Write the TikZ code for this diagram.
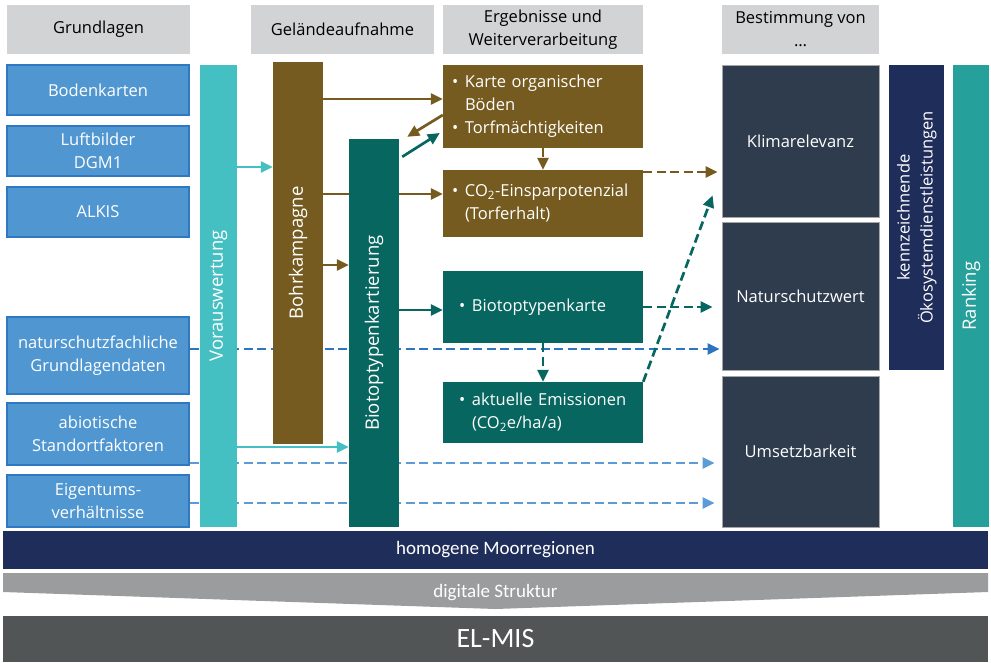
\documentclass[tikz,border=0pt]{standalone}
\usepackage{fontspec}
\usepackage{graphicx}
\setmainfont{Open Sans}
\newfontfamily\bandfont{Carlito}
\usetikzlibrary{arrows.meta, backgrounds, calc}
\definecolor{cHead}{HTML}{D1D3D4}
\definecolor{cBase}{HTML}{5097D1}
\definecolor{cBaseLn}{HTML}{2F78C2}
\definecolor{cPre}{HTML}{45C0C2}
\definecolor{cBohr}{HTML}{755B1F}
\definecolor{cBiot}{HTML}{07665F}
\definecolor{cEval}{HTML}{2E3C4E}
\definecolor{cOesd}{HTML}{1F2D5B}
\definecolor{cRank}{HTML}{26A09A}
\definecolor{cDigi}{HTML}{9A9C9D}
\definecolor{cMis}{HTML}{525556}
\definecolor{cNat}{HTML}{2E75C1}
\definecolor{cAbio}{HTML}{5B9BD8}
\newcommand\itm{\makebox[13pt][l]{\textbullet}}
\newcommand\itmpad{\hspace*{13pt}}

\begin{document}
\begin{tikzpicture}[x=1pt, y=-1pt,
  font=\fontsize{16.5}{23}\selectfont, >={Triangle[length=12pt,width=11pt]},
  box/.style 2 args={inner sep=0pt, align=center, text=white, minimum width=#1, minimum height=#2},
  head/.style 2 args={box={#1}{#2}, fill=cHead, text=black},
  base/.style 2 args={box={#1}{#2}, fill=cBase, draw=cBaseLn, line width=1.2pt},
  vbar/.style={fill=#1, font=\fontsize{18.5}{23}\selectfont},
  res/.style 2 args={box={#1}{#2}, align=left, inner xsep=9pt, text width=182pt},
  resT/.style 2 args={box={#1}{#2}, align=left, inner xsep=16pt, text width=168pt, fill=cBiot},
  eval/.style 2 args={box={#1}{#2}, fill=cEval, draw=black!35, line width=0.8pt},
  band/.style={font=\bandfont\fontsize{19}{23}\selectfont},
  flow/.style={->, line width=2.7pt},
  dflow/.style={->, line width=2.7pt, dash pattern=on 9pt off 4.5pt},
]
\useasboundingbox (0,0) rectangle (991,662);

% column headers
\node[head={183pt}{49pt}] (hGrund) at (98.5,29.5) {Grundlagen};
\node[head={183pt}{49pt}] (hGel) at (342.5,29.5) {Geländeaufnahme};
\node[head={200pt}{49pt}] (hErg) at (543,29.5) {Ergebnisse und\\Weiterverarbeitung};
\node[head={157pt}{49pt}] (hBest) at (800.5,29.5) {Bestimmung von\\…};

% column 1 data bases
\node[base={182pt}{50pt}] (boden) at (98,90) {Bodenkarten};
\node[base={182pt}{50pt}] (luft) at (98,151) {Luftbilder\\DGM1};
\node[base={182pt}{50pt}] (alkis) at (98,212) {ALKIS};
\node[base={182pt}{77pt}] (natur) at (98,355.5) {naturschutzfachliche\\Grundlagendaten};
\node[base={182pt}{62pt}] (abio) at (98,434) {abiotische\\Standortfaktoren};
\node[base={182pt}{52pt}] (eigen) at (98,501) {Eigentums-\\verhältnisse};

% column 2 field work bars
\node[box={37pt}{462pt}, vbar=cPre] (vor) at (218.5,296) {\rotatebox{90}{Vorauswertung}};
\node[box={50pt}{382pt}, vbar=cBohr] (bohr) at (298,253) {\rotatebox{90}{Bohrkampagne}};
\node[box={50pt}{388pt}, vbar=cBiot] (biot) at (374,333) {\rotatebox{90}{Biotoptypenkartierung}};

% column 3 results
\node[res={200pt}{83pt}, fill=cBohr] (karte) at (543,106.5)
  {\itm Karte organischer\\\itmpad Böden\\\itm Torfmächtigkeiten};
\node[res={200pt}{67pt}, fill=cBohr] (co2) at (543,203.5)
  {\itm CO\textsubscript{2}-Einsparpotenzial\\\itmpad (Torferhalt)};
\node[resT={200pt}{72pt}] (btk) at (543,307) {\itm Biotoptypenkarte};
\node[resT={200pt}{61pt}] (emis) at (543,412.5)
  {\itm aktuelle Emissionen\\\itmpad (CO\textsubscript{2}e/ha/a)};

% column 4 evaluation
\node[eval={157pt}{152pt}] (klima) at (800.5,141) {Klimarelevanz};
\node[eval={157pt}{148pt}] (nsw) at (800.5,296) {Naturschutzwert};
\node[eval={157pt}{151pt}] (umsetz) at (800.5,451.5) {Umsetzbarkeit};
\node[box={55pt}{305pt}, fill=cOesd] (oesd) at (916.5,217.5)
  {\rotatebox{90}{\begin{tabular}{@{}c@{}}kennzeichnende\\Ökosystemdienstleistungen\end{tabular}}};
\node[box={36pt}{462pt}, vbar=cRank] (rank) at (971,296) {\rotatebox{90}{Ranking}};

% bottom bands
\node[box={985pt}{38pt}, fill=cOesd, band] (moor) at (495.5,550) {homogene Moorregionen};
\fill[cDigi] (3,573) -- (988,573) -- (988,592) -- (495.5,609) -- (3,592) -- cycle;
\node[box={10pt}{10pt}, band] (digi) at (495.5,593) {digitale Struktur};
\node[box={985pt}{46pt}, fill=cMis, font=\bandfont\fontsize{28}{32}\selectfont] (mis) at (495.5,639) {EL-MIS};

% solid links
\draw[flow, cPre] (vor.east |- 0,167) -- (bohr.west |- 0,167);
\draw[flow, cPre] (vor.east |- 0,447) -- (biot.west |- 0,447);
\draw[flow, cBohr] (bohr.east |- 0,99) -- (karte.west |- 0,99);
\draw[flow, cBohr] (bohr.east |- 0,265) -- (biot.west |- 0,265);
\draw[flow, cBohr] ([yshift=-8.5pt]karte.west) -- ([xshift=8pt,yshift=2pt]biot.north east);
\draw[flow, cBiot] ([xshift=3pt,yshift=-18pt]biot.north east) -- ([xshift=-3pt,yshift=-26.5pt]karte.west);
\draw[flow, cBiot] (biot.east |- 0,310) -- (btk.west |- 0,310);

% dashed links
\draw[dflow, cBohr] (karte.south) -- (co2.north);
\draw[dflow, cBohr, shorten >=4pt] (co2.east |- 0,172) -- (klima.west |- 0,172);
\draw[dflow, cBiot] (btk.south) -- (emis.north);
\draw[dflow, cBiot, shorten >=9pt] (btk.east) -- (nsw.west |- btk.east);
\draw[dflow, cBiot] (emis.north east) -- ([xshift=-9pt,yshift=22pt]klima.south west);

% links running behind the bars
\begin{scope}[on background layer]
  \draw[flow, cBohr] (bohr.east |- 0,194) -- (co2.west |- 0,194);
  \draw[dflow, cNat, shorten >=2pt] (natur.east |- 0,349) -- (nsw.west |- 0,349);
  \draw[dflow, cAbio, shorten >=7pt] (abio.east |- 0,463) -- (umsetz.west |- 0,463);
  \draw[dflow, cAbio, shorten >=7pt] (eigen.east |- 0,503) -- (umsetz.west |- 0,503);
\end{scope}

\end{tikzpicture}
\end{document}
